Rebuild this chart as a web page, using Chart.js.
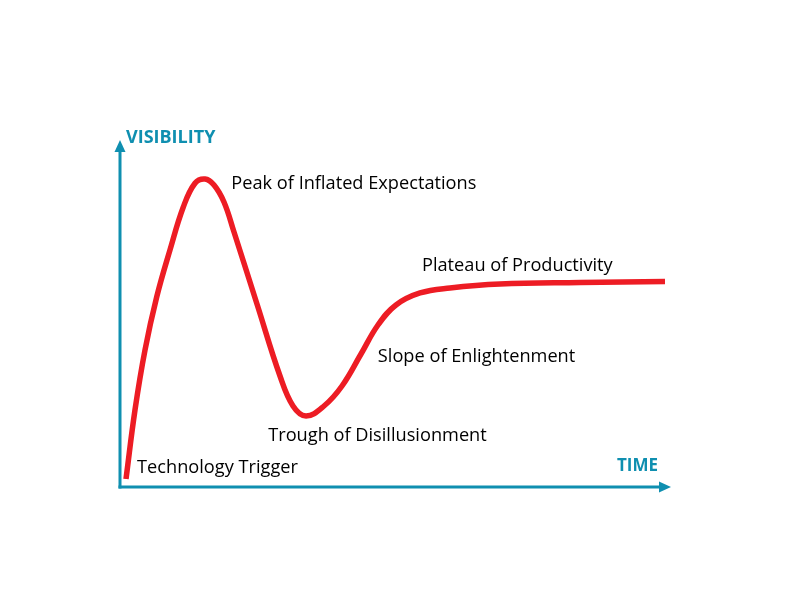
<!DOCTYPE html>
<html><head><meta charset="utf-8">
<script src="https://cdn.jsdelivr.net/npm/chart.js@4.4.1/dist/chart.umd.min.js"></script>
<style>html,body{margin:0;padding:0;background:#fff}#wrap{width:792px;height:612px}</style>
</head><body><div id="wrap"><canvas id="c" width="792" height="612"></canvas></div>
<script>
// Hype cycle curve: time (0-100) vs visibility (0-100)
const timeValues = [1.09, 2.72, 4.54, 6.66, 9.07, 11.49, 13.61, 15.43, 17.06, 18.87, 20.69, 24.86, 29.04, 31.40, 33.76, 37.02, 40.29, 43.74, 46.82, 50.09, 54.45, 59.89, 68.97, 83.48, 98.91];
const visibilityValues = [2.31, 22.19, 39.48, 54.76, 68.30, 80.69, 87.52, 88.76, 87.03, 82.13, 73.49, 52.74, 31.99, 23.34, 20.46, 23.34, 29.11, 38.33, 46.69, 52.45, 55.91, 57.35, 58.50, 58.93, 59.22];
const phaseNames = ["Technology Trigger", "Peak of Inflated Expectations", "Trough of Disillusionment", "Slope of Enlightenment", "Plateau of Productivity"];
const phaseTime = [3.1, 20.2, 26.9, 46.8, 54.8];
const phaseVisibility = [5.5, 87.3, 14.7, 37.5, 63.7];
const axisTitles = {y: "VISIBILITY", x: "TIME"};

const TEAL = '#0f8fb0';
const points = timeValues.map((t, i) => ({x: t, y: visibilityValues[i]}));

const hypePlugin = {
  id: 'hype',
  beforeDatasetsDraw(chart) {
    const {ctx, chartArea: a} = chart;
    ctx.save();
    ctx.strokeStyle = TEAL; ctx.fillStyle = TEAL; ctx.lineWidth = 3;
    // y axis
    ctx.beginPath(); ctx.moveTo(a.left, a.bottom + 1.5); ctx.lineTo(a.left, a.top + 8); ctx.stroke();
    ctx.beginPath(); ctx.moveTo(a.left, a.top); ctx.lineTo(a.left - 5.5, a.top + 12); ctx.lineTo(a.left + 5.5, a.top + 12); ctx.closePath(); ctx.fill();
    // x axis
    ctx.beginPath(); ctx.moveTo(a.left - 1.5, a.bottom); ctx.lineTo(a.right - 8, a.bottom); ctx.stroke();
    ctx.beginPath(); ctx.moveTo(a.right, a.bottom); ctx.lineTo(a.right - 12, a.bottom - 5.5); ctx.lineTo(a.right - 12, a.bottom + 5.5); ctx.closePath(); ctx.fill();
    // axis titles
    ctx.textBaseline = 'middle';
    ctx.textAlign = 'left';
    ctx.font = 'bold 18px "Open Sans", "DejaVu Sans", sans-serif';
    ctx.fillText(axisTitles.y, a.left + 6, a.top - 2);
    ctx.textAlign = 'right';
    ctx.font = 'bold 17px "Open Sans", "DejaVu Sans", sans-serif';
    ctx.fillText(axisTitles.x, a.right - 13, a.bottom - 21);
    ctx.restore();
  },
  afterDatasetsDraw(chart) {
    const {ctx, scales: {x, y}} = chart;
    ctx.save();
    ctx.fillStyle = '#000';
    ctx.font = '18.2px "Open Sans", sans-serif';
    ctx.textBaseline = 'middle';
    ctx.textAlign = 'left';
    phaseNames.forEach((n, i) => {
      ctx.fillText(n, x.getPixelForValue(phaseTime[i]), y.getPixelForValue(phaseVisibility[i]));
    });
    ctx.restore();
  }
};

new Chart(document.getElementById('c'), {
  type: 'scatter',
  data: {datasets: [{
    data: points, showLine: true, borderColor: '#ed1c24', borderWidth: 5.5,
    pointRadius: 0, tension: 0.4, fill: false, borderCapStyle: 'butt', borderJoinStyle: 'round'
  }]},
  options: {
    responsive: false, animation: false, devicePixelRatio: 1,
    layout: {padding: {left: 120, right: 121, top: 140, bottom: 125}},
    plugins: {legend: {display: false}, tooltip: {enabled: false}},
    scales: {
      x: {type: 'linear', min: 0, max: 100, display: false},
      y: {type: 'linear', min: 0, max: 100, display: false}
    }
  },
  plugins: [hypePlugin]
});
</script></body></html>
